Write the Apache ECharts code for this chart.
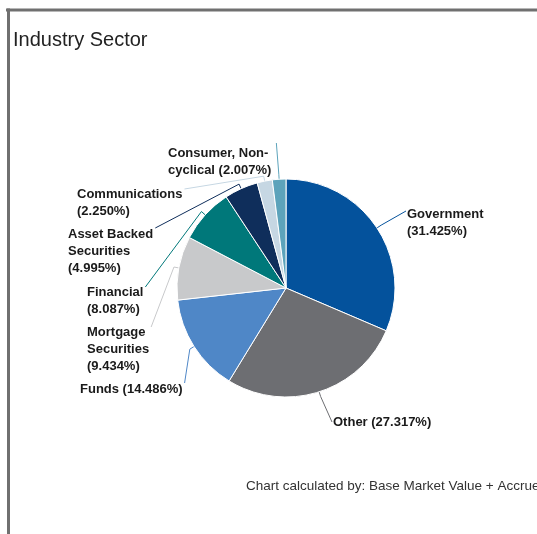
<!DOCTYPE html>
<html>
<head>
<meta charset="utf-8">
<script src="https://cdn.jsdelivr.net/npm/echarts@6/dist/echarts.min.js"></script>
<style>
  html, body { margin: 0; padding: 0; background: #fff; }
  #chart { width: 537px; height: 534px; }
</style>
</head>
<body>
<div id="chart"></div>
<script>
// Sector weights (% of portfolio), clockwise from 12 o'clock
const categories = [
  'Government', 'Other', 'Funds', 'Mortgage Securities',
  'Financial', 'Asset Backed Securities', 'Communications', 'Consumer, Non-cyclical'
];
const weights = [31.425, 27.317, 14.486, 9.434, 8.087, 4.995, 2.250, 2.007];

// How each label's name is broken across lines (percent is appended after)
const labelNames = [
  'Government\n', 'Other ', 'Funds ', 'Mortgage\nSecurities\n',
  'Financial\n', 'Asset Backed\nSecurities\n', 'Communications\n', 'Consumer, Non-\ncyclical '
];

const sliceColors = [
  '#04529c', '#6d6e72', '#4f87c7', '#c8c9cb',
  '#00787a', '#0f2e5b', '#c6d7e3', '#5ca3bb'
];

// Top-left anchor of each label block
const labelSpots = [
  [407, 206], [333, 414], [80, 381], [87, 324],
  [87, 284], [68, 226], [77, 186], [168, 145]
];

// Where each leader line meets its label: side of the block, x and y offsets
const lineAttach = [
  ['L', -1, 5], ['L', -1, 8], ['R', 2, 2], ['R', 2, 3],
  ['R', 2, 3], ['R', 2, 2], ['R', 2, 3], ['R', 5, -2]
];

const pieCenter = [286, 288];

const chart = echarts.init(document.getElementById('chart'), null, { renderer: 'canvas' });

chart.setOption({
  animation: false,
  color: sliceColors,
  graphic: [
    { type: 'line', shape: { x1: 6, y1: 10, x2: 537, y2: 10 }, style: { stroke: '#707070', lineWidth: 3 } },
    { type: 'line', shape: { x1: 8.5, y1: 8.5, x2: 8.5, y2: 534 }, style: { stroke: '#707070', lineWidth: 3 } },
    {
      type: 'text', x: 13, y: 40,
      style: {
        text: 'Industry Sector', fill: '#222',
        font: '20px "Liberation Sans", Arial, sans-serif',
        verticalAlign: 'middle'
      }
    },
    {
      type: 'text', x: 246, y: 486,
      style: {
        text: 'Chart calculated by: Base Market Value + Accrued', fill: '#333',
        font: '13.5px "Liberation Sans", Arial, sans-serif',
        verticalAlign: 'middle'
      }
    }
  ],
  series: [{
    type: 'pie',
    center: pieCenter,
    radius: [0, 109],
    startAngle: 90,
    clockwise: true,
    avoidLabelOverlap: false,
    itemStyle: { borderColor: '#fff', borderWidth: 1 },
    label: {
      show: true,
      position: 'outside',
      color: '#1a1a1a',
      fontFamily: '"Liberation Sans", Arial, sans-serif',
      fontWeight: 'bold',
      fontSize: 13,
      lineHeight: 17,
      formatter: p => labelNames[p.dataIndex] + '(' + p.value.toFixed(3) + '%)'
    },
    labelLine: { show: true, length: 10, length2: 10, lineStyle: { width: 1 } },
    labelLayout: p => {
      const i = p.dataIndex;
      const [x, y] = labelSpots[i];
      const w = p.labelRect.width;
      const edge = p.labelLinePoints[0];
      const dx = edge[0] - pieCenter[0];
      const dy = edge[1] - pieCenter[1];
      const len = Math.sqrt(dx * dx + dy * dy) || 1;
      const hook = [edge[0] + dx / len * 5, edge[1] + dy / len * 5];
      const [side, ox, oy] = lineAttach[i];
      const end = side === 'L' ? [x + ox, y + oy] : [x + w + ox, y + oy];
      return {
        x, y,
        align: 'left',
        verticalAlign: 'top',
        labelLinePoints: [edge, hook, end]
      };
    },
    emphasis: { disabled: true },
    data: categories.map((name, i) => ({ name, value: weights[i] }))
  }]
});
</script>
</body>
</html>
